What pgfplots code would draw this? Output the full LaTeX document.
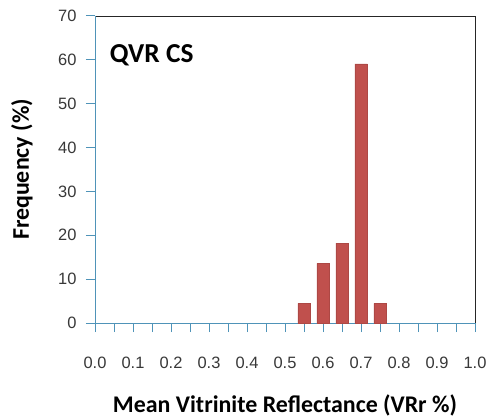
\documentclass[border=0pt]{standalone}
\usepackage{fontspec}
\setmainfont{Liberation Sans}
\newfontfamily\calib{Carlito}
\usepackage{pgfplots}
\pgfplotsset{compat=1.18}
\definecolor{barred}{HTML}{C0504D}
\definecolor{axblue}{HTML}{4F93B8}
\begin{document}
\begin{tikzpicture}
\path[use as bounding box] (-95bp,-95bp) rectangle (393bp,323bp);
\begin{axis}[
  at={(0,0)}, anchor=origin,
  scale only axis,
  width=380bp, height=307bp,
  xmin=0, xmax=1, ymin=0, ymax=70,
  axis line style={draw=none},
  xtick={0,0.05,...,1.0001},
  xticklabels={0.0,,0.1,,0.2,,0.3,,0.4,,0.5,,0.6,,0.7,,0.8,,0.9,,1.0},
  ytick={0,10,...,70},
  tick align=outside,
  major tick length=9bp,
  tick style={draw=axblue, line width=1pt},
  xtick pos=bottom, ytick pos=left,
  /pgf/number format/assume math mode=true,
  ticklabel style={font=\fontsize{16.5}{18}\selectfont, text=black!78},
  xticklabel style={yshift=-22bp},
  yticklabel style={xshift=-6bp},
  xlabel={\calib\bfseries Mean Vitrinite Reflectance (VRr \%)},
  ylabel={\calib\bfseries Frequency (\%)},
  label style={font=\fontsize{24}{26}\selectfont},
  xlabel style={at={(axis description cs:0.5,0)}, anchor=center, yshift=-82bp},
  ylabel style={at={(axis description cs:0,0.5)}, anchor=center, yshift=73bp},
  ybar, bar width=12.5bp,
  clip=false,
]
\draw[black!85, line width=0.8pt] (rel axis cs:0,1) -- (rel axis cs:1,1) -- (rel axis cs:1,0);
\draw[axblue, line width=1pt] (rel axis cs:0,1) -- (rel axis cs:0,0) -- (rel axis cs:1,0);
\addplot[fill=barred, draw=barred!90!black, line width=0.4pt] coordinates {
  (0.55,4.5) (0.60,13.6) (0.65,18.2) (0.70,59.1) (0.75,4.5)
};
\node[anchor=west, font=\calib\bfseries\fontsize{27.5}{30}\selectfont] at (axis cs:0.03,61) {QVR CS};
\end{axis}
\end{tikzpicture}
\end{document}
